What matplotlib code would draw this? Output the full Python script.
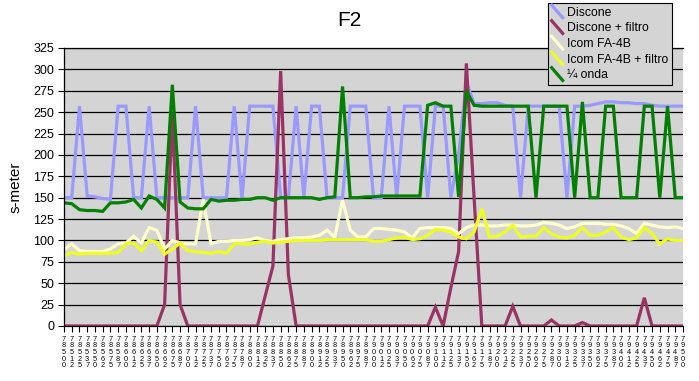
import matplotlib
matplotlib.use("Agg")
import matplotlib.pyplot as plt
from matplotlib.lines import Line2D
from matplotlib.legend_handler import HandlerLine2D

# frequency labels (kHz*10, truncated as in the sheet)
freqs = ["78500", "78512", "78525", "78537", "78550", "78562", "78575", "78587",
         "78600", "78612", "78625", "78637", "78650", "78662", "78675", "78687",
         "78700", "78712", "78725", "78737", "78750", "78762", "78775", "78787",
         "78800", "78812", "78825", "78837", "78850", "78862", "78875", "78887",
         "78900", "78912", "78925", "78937", "78950", "78962", "78975", "78987",
         "79000", "79012", "79025", "79037", "79050", "79062", "79075", "79087",
         "79100", "79112", "79125", "79137", "79150", "79162", "79175", "79187",
         "79200", "79212", "79225", "79237", "79250", "79262", "79275", "79287",
         "79300", "79312", "79325", "79337", "79350", "79362", "79375", "79387",
         "79400", "79412", "79425", "79437", "79450", "79462", "79475", "79487",
         "79500"]

discone = [150, 150, 257, 152, 151, 149, 148, 257, 257, 150, 150, 257, 150, 150,
           150, 150, 150, 257, 150, 150, 150, 150, 257, 148, 257, 257, 257, 257,
           150, 150, 257, 150, 257, 257, 150, 150, 150, 257, 257, 257, 150, 150,
           257, 150, 257, 257, 257, 150, 257, 257, 150, 200, 285, 260, 260, 261,
           261, 258, 257, 150, 257, 257, 257, 257, 257, 150, 257, 257, 258, 260,
           262, 262, 261, 261, 260, 260, 258, 257, 257, 257, 257]

discone_filtro = [0, 0, 0, 0, 0, 0, 0, 0, 0, 0, 0, 0, 0, 25, 250, 25, 0, 0, 0, 0,
                  0, 0, 0, 0, 0, 0, 35, 70, 298, 60, 0, 0, 0, 0, 0, 0, 0, 0, 0, 0,
                  0, 0, 0, 0, 0, 0, 0, 0, 22, 0, 45, 87, 307, 150, 0, 0, 0, 0, 23, 0,
                  0, 0, 0, 7, 0, 0, 0, 4, 0, 0, 0, 0, 0, 0, 0, 33, 0, 0, 0, 0, 0]

icom = [89, 96, 88, 87, 87, 87, 90, 96, 97, 105, 97, 115, 112, 90, 100, 97, 96,
        96, 148, 96, 99, 99, 100, 100, 101, 103, 100, 99, 101, 102, 103, 103, 104,
        106, 112, 104, 147, 112, 104, 104, 114, 114, 113, 112, 110, 103, 114, 115,
        115, 115, 114, 108, 115, 118, 118, 117, 117, 118, 118, 117, 117, 118, 121,
        120, 118, 114, 116, 120, 120, 120, 119, 119, 117, 114, 108, 120, 118, 116,
        115, 116, 114]

icom_filtro = [82, 86, 84, 85, 85, 85, 85, 86, 96, 97, 88, 100, 98, 84, 90, 97,
               88, 87, 86, 85, 87, 85, 96, 96, 96, 98, 99, 97, 98, 99, 100, 100,
               100, 100, 101, 101, 101, 101, 101, 101, 99, 99, 101, 103, 104, 101,
               102, 106, 113, 112, 110, 104, 102, 110, 137, 104, 105, 110, 118, 104,
               105, 105, 115, 108, 104, 103, 106, 115, 106, 106, 110, 115, 104, 101,
               103, 115, 108, 96, 102, 100, 100]

quarter = [144, 143, 136, 135, 135, 134, 144, 144, 145, 148, 138, 152, 148, 138,
           282, 145, 138, 137, 137, 148, 146, 147, 147, 148, 148, 150, 150, 147,
           150, 150, 150, 150, 150, 148, 150, 151, 280, 150, 150, 151, 151, 152,
           152, 152, 152, 152, 152, 258, 261, 257, 257, 151, 275, 258, 257, 257,
           257, 257, 257, 257, 257, 150, 257, 257, 257, 257, 150, 262, 150, 150,
           257, 257, 150, 150, 150, 257, 257, 150, 257, 150, 150]

names = ["Discone", "Discone + filtro", "Icom FA-4B", "Icom FA-4B + filtro", "¼ onda"]
colors = ["#9999FF", "#993366", "#FFFFCC", "#EEFF22", "#008000"]
series = [discone, discone_filtro, icom, icom_filtro, quarter]


class DiagHandler(HandlerLine2D):
    # Excel style legend key: short diagonal stroke
    def create_artists(self, legend, orig_handle, xdescent, ydescent,
                       width, height, fontsize, trans):
        line = Line2D([-xdescent, width - xdescent],
                      [height - ydescent + 1.5, -ydescent - 1.5])
        self.update_prop(line, orig_handle, legend)
        line.set_transform(trans)
        return [line]


plt.rcParams['font.family'] = ['Liberation Sans', 'DejaVu Sans']

fig = plt.figure(figsize=(6.99, 3.81), dpi=100)
ax = fig.add_axes([64 / 699, 1 - 326 / 381, 619 / 699, 278 / 381])
ax.set_facecolor("#D4D4D4")

x = list(range(len(freqs)))
handles = []
for name, col, vals in zip(names, colors, series):
    h, = ax.plot(x, vals, color=col, lw=2.3, label=name, solid_joinstyle='miter')
    handles.append(h)

ax.set_xlim(0, len(freqs) - 1)
ax.set_ylim(0, 325)
ax.set_yticks(range(0, 326, 25))
ax.grid(axis='y', color='black', lw=0.9)
ax.set_axisbelow(True)
ax.tick_params(axis='y', labelsize=9, length=4, width=0.8, pad=3)
ax.set_xticks(x)
ax.set_xticklabels(["\n".join(s) for s in freqs], fontsize=5.3, linespacing=0.92)
ax.tick_params(axis='x', length=4, width=0.8, pad=3)
ax.spines['right'].set_visible(False)
for s in ['left', 'bottom', 'top']:
    ax.spines[s].set_linewidth(0.9)

ax.set_ylabel("s-meter", fontsize=11, labelpad=8)
fig.text(0.5, 1 - 20 / 381, "F2", fontsize=15, ha='center', va='center')

leg = fig.legend(handles=handles, loc='upper left',
                 bbox_to_anchor=(548 / 699, 1 - 3 / 381), fontsize=8.8,
                 handler_map={Line2D: DiagHandler()}, handlelength=0.9,
                 handletextpad=0.35, labelspacing=0.3, borderpad=0.3,
                 borderaxespad=0, fancybox=False, framealpha=1,
                 edgecolor='black', facecolor="#D4D4D4")
leg.get_frame().set_linewidth(0.8)

fig.savefig("out.png", dpi=100, facecolor='white')
